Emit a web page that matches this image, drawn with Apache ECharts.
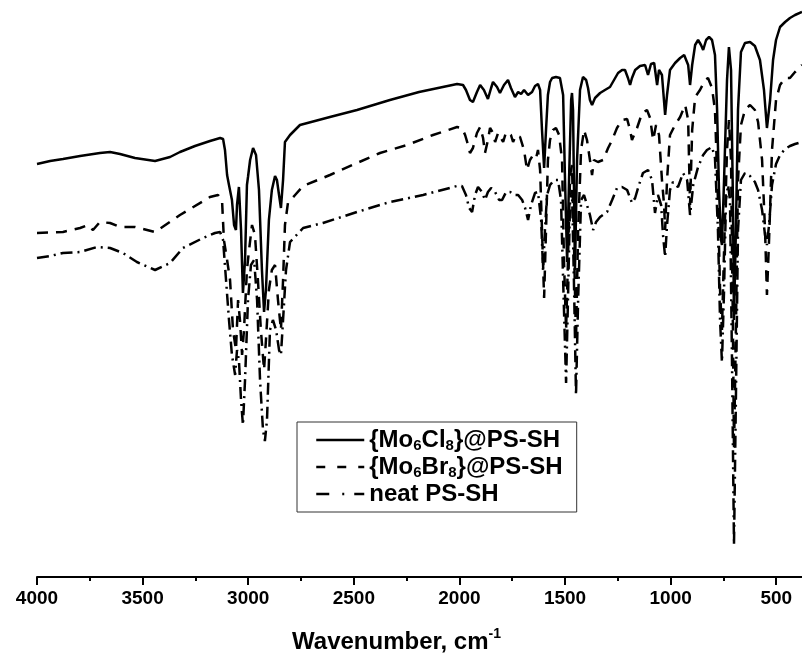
<!DOCTYPE html>
<html><head><meta charset="utf-8">
<script src="https://cdn.jsdelivr.net/npm/echarts@6/dist/echarts.min.js"></script>
<style>html,body{margin:0;padding:0;background:#fff}#c{width:802px;height:666px}</style>
</head><body><div id="c"></div>
<script>
// Tick labels (wavenumber, cm-1)
const majorTicks = [4000, 3500, 3000, 2500, 2000, 1500, 1000, 500];
const minorTicks = [3750, 3250, 2750, 2250, 1750, 1250, 750];
const seriesNames = ['{Mo6Cl8}@PS-SH', '{Mo6Br8}@PS-SH', 'neat PS-SH'];

// Transmittance (arbitrary units, offset spectra) vs wavenumber
const moClSpectrum = [
[4000,413],[3938,416],[3877,418],[3796,421],[3702,424],[3654,425],[3607,423],[3536,419],[3441,416],[3370,420],[3323,425],[3252,431],[3181,436],[3133,439],[3119,438],[3110,427],[3100,402],[3091,392],[3077,377],[3067,352],[3058,347],[3053,372],[3044,390],[3034,347],[3025,284],[3015,317],[3006,392],[3001,400],[2991,417],[2977,429],[2963,422],[2949,387],[2935,307],[2925,265],[2916,287],[2902,357],[2888,387],[2873,401],[2864,397],[2854,382],[2845,369],[2835,397],[2826,435],[2802,442],[2755,452],[2613,460],[2485,467],[2329,477],[2191,485],[2011,493],[1983,492],[1969,487],[1950,477],[1936,475],[1917,485],[1902,492],[1884,487],[1865,478],[1850,489],[1841,495],[1822,490],[1808,484],[1789,492],[1770,497],[1756,489],[1737,480],[1722,485],[1708,483],[1694,487],[1675,482],[1656,485],[1642,491],[1628,493],[1618,487],[1609,447],[1599,409],[1590,447],[1581,482],[1571,495],[1561,499],[1543,500],[1524,499],[1509,482],[1500,397],[1490,315],[1481,397],[1471,477],[1467,484],[1462,467],[1453,307],[1443,417],[1429,487],[1415,500],[1400,497],[1391,489],[1382,477],[1372,472],[1358,479],[1334,484],[1311,487],[1287,490],[1268,497],[1249,504],[1230,507],[1216,507],[1202,499],[1192,492],[1183,499],[1168,507],[1145,511],[1121,512],[1107,502],[1093,513],[1078,514],[1064,492],[1055,507],[1041,502],[1026,462],[1017,482],[1003,507],[979,514],[955,519],[936,522],[917,512],[908,492],[898,512],[884,532],[870,537],[856,532],[846,527],[832,537],[818,540],[804,537],[790,522],[780,467],[771,387],[761,337],[757,332],[747,397],[733,497],[724,530],[714,507],[705,377],[700,257],[691,347],[681,467],[667,525],[648,534],[624,535],[601,531],[577,517],[558,487],[544,449],[529,477],[515,517],[501,537],[482,550],[458,555],[435,559],[411,562],[378,565]
];
const moBrSpectrum = [
[4000,344],[3877,345],[3796,349],[3759,352],[3735,347],[3702,355],[3654,354],[3607,350],[3536,350],[3441,345],[3323,362],[3181,380],[3143,382],[3124,377],[3115,337],[3100,317],[3086,297],[3072,247],[3058,227],[3048,277],[3039,257],[3029,222],[3020,247],[3006,307],[2996,327],[2982,352],[2968,342],[2954,297],[2940,247],[2925,207],[2916,237],[2902,287],[2888,307],[2873,312],[2859,277],[2845,247],[2835,297],[2826,352],[2812,374],[2778,382],[2740,391],[2613,402],[2485,414],[2376,424],[2248,432],[2125,442],[2011,450],[1988,449],[1973,442],[1959,432],[1950,424],[1936,429],[1917,444],[1902,450],[1888,439],[1879,424],[1865,437],[1855,449],[1841,444],[1831,435],[1817,444],[1808,442],[1793,435],[1779,445],[1770,447],[1756,442],[1746,435],[1732,442],[1713,440],[1694,427],[1680,407],[1666,417],[1651,422],[1637,419],[1628,427],[1618,407],[1609,347],[1599,279],[1590,347],[1581,417],[1571,437],[1557,447],[1543,449],[1528,442],[1514,417],[1505,317],[1495,247],[1486,317],[1476,402],[1467,412],[1457,327],[1448,237],[1438,347],[1424,427],[1410,447],[1396,437],[1382,417],[1372,402],[1363,417],[1344,415],[1320,417],[1296,429],[1277,437],[1254,449],[1230,457],[1206,458],[1192,447],[1183,437],[1173,442],[1159,449],[1135,464],[1112,467],[1097,459],[1083,437],[1069,452],[1055,442],[1041,397],[1031,372],[1026,347],[1017,397],[1003,442],[979,452],[955,460],[931,472],[917,457],[908,372],[898,447],[884,480],[861,487],[837,497],[823,499],[804,489],[790,467],[776,377],[766,287],[757,247],[747,327],[733,427],[724,457],[714,417],[705,247],[700,127],[691,247],[681,397],[667,452],[648,467],[624,472],[601,467],[586,455],[567,417],[553,347],[544,282],[534,337],[520,427],[501,477],[482,492],[458,499],[435,499],[411,505],[378,512]
];
const neatPsSpectrum = [
[4000,319],[3938,321],[3877,324],[3796,325],[3716,330],[3654,329],[3593,324],[3527,315],[3441,307],[3370,314],[3309,329],[3214,339],[3157,344],[3133,345],[3119,337],[3105,297],[3091,257],[3077,222],[3062,202],[3053,227],[3044,217],[3034,177],[3025,152],[3015,197],[3001,277],[2987,312],[2972,317],[2958,277],[2944,197],[2930,147],[2921,136],[2911,157],[2897,247],[2883,257],[2868,247],[2854,227],[2845,222],[2835,257],[2821,307],[2802,335],[2740,349],[2646,354],[2485,365],[2329,375],[2172,382],[2011,391],[1988,391],[1969,382],[1954,369],[1940,365],[1926,382],[1912,390],[1893,385],[1879,377],[1865,385],[1850,389],[1831,385],[1812,377],[1798,377],[1779,385],[1760,385],[1741,382],[1722,382],[1703,377],[1689,369],[1675,357],[1661,372],[1642,384],[1628,385],[1613,357],[1604,307],[1595,347],[1585,382],[1571,392],[1552,397],[1533,397],[1519,377],[1509,297],[1495,194],[1486,277],[1476,377],[1467,387],[1457,287],[1448,182],[1438,277],[1424,377],[1410,382],[1396,372],[1382,362],[1367,347],[1353,355],[1334,360],[1301,365],[1277,377],[1254,389],[1230,390],[1206,387],[1183,374],[1168,379],[1150,392],[1131,404],[1107,407],[1088,397],[1074,364],[1060,382],[1045,372],[1036,342],[1026,320],[1017,352],[1003,387],[989,395],[965,390],[941,404],[922,397],[908,362],[893,392],[870,410],[846,422],[828,427],[804,430],[790,419],[776,347],[766,257],[757,215],[747,287],[738,377],[728,392],[719,377],[710,227],[700,32],[691,177],[681,347],[667,397],[648,404],[624,401],[601,395],[586,387],[567,367],[553,342],[544,332],[534,352],[520,392],[501,413],[482,422],[458,428],[435,431],[411,433],[378,435]
];

const FONT = '"Liberation Sans", Arial, Helvetica, sans-serif';
const legendLabels = {
  '{Mo6Cl8}@PS-SH': '{Mo{s|6}Cl{s|8}}@PS-SH',
  '{Mo6Br8}@PS-SH': '{Mo{s|6}Br{s|8}}@PS-SH',
  'neat PS-SH': 'neat PS-SH'
};
const lineTypes = ['solid', [11, 8], [12, 5, 2, 5]];
const legendLineTypes = ['solid', [9, 12], [13, 13, 2, 10]];
const spectra = [moClSpectrum, moBrSpectrum, neatPsSpectrum];

const chart = echarts.init(document.getElementById('c'), null, {renderer: 'canvas'});
chart.setOption({
  animation: false,
  backgroundColor: '#fff',
  grid: {left: 37, right: 0, top: 0, bottom: 89, containLabel: false},
  xAxis: [{
    type: 'value', inverse: true, min: 378, max: 4000,
    axisLine: {show: true, lineStyle: {color: '#000', width: 2}},
    axisTick: {show: true, customValues: majorTicks, length: 8, inside: false, lineStyle: {color: '#000', width: 2}},
    axisLabel: {show: true, customValues: majorTicks, formatter: v => String(v), margin: 12, color: '#000', fontSize: 19, fontWeight: 'bold', fontFamily: FONT},
    splitLine: {show: false},
    name: '{a|Wavenumber, cm}{b|-1}',
    nameLocation: 'middle', nameGap: 50,
    nameTextStyle: {
      padding: [0, 46, 0, 0],
      rich: {
        a: {fontSize: 24, fontWeight: 'bold', color: '#000', fontFamily: FONT, lineHeight: 30},
        b: {fontSize: 14, fontWeight: 'bold', color: '#000', fontFamily: FONT, verticalAlign: 'top', lineHeight: 14}
      }
    }
  }, {
    type: 'value', inverse: true, min: 378, max: 4000, position: 'bottom',
    axisLine: {show: false},
    axisTick: {show: true, customValues: minorTicks, length: 4, inside: false, lineStyle: {color: '#000', width: 2}},
    axisLabel: {show: false},
    splitLine: {show: false}
  }],
  yAxis: {type: 'value', min: 0, max: 577, show: false},
  legend: {
    orient: 'vertical', left: 297, top: 422,
    borderColor: '#333', borderWidth: 1,
    padding: [5, 14, 5, 18],
    itemWidth: 48, itemHeight: 20, itemGap: 1,
    itemStyle: {opacity: 0, borderWidth: 0},
    data: seriesNames.map((n, i) => ({name: n, lineStyle: {type: legendLineTypes[i], width: 2.5, color: '#000'}})),
    formatter: name => legendLabels[name],
    textStyle: {
      fontSize: 24, fontWeight: 'bold', color: '#000', fontFamily: FONT, lineHeight: 26,
      rich: {s: {fontSize: 15, fontWeight: 'bold', color: '#000', fontFamily: FONT, verticalAlign: 'bottom', lineHeight: 12}}
    }
  },
  series: spectra.map((d, i) => ({
    name: seriesNames[i], type: 'line', data: d, symbol: 'none', smooth: false,
    xAxisIndex: 0,
    lineStyle: {color: '#000', width: 2.5, type: lineTypes[i]},
    itemStyle: {color: '#000'}
  }))
});
</script></body></html>
